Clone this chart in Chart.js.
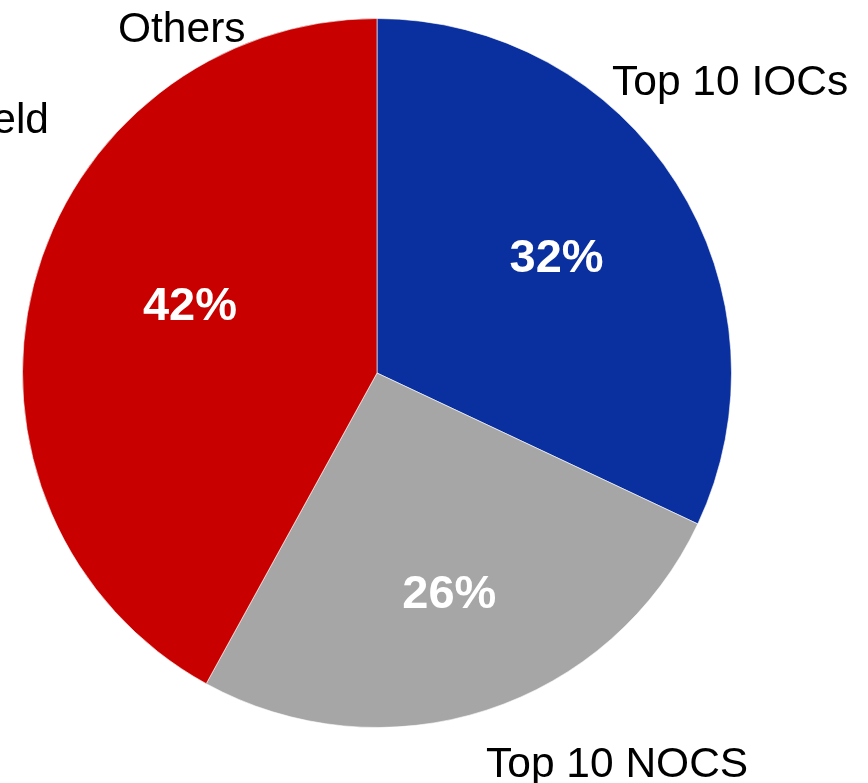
<!DOCTYPE html>
<html>
<head>
<meta charset="utf-8">
<title>Share by company group</title>
<script src="https://cdn.jsdelivr.net/npm/chart.js@4.4.1/dist/chart.umd.min.js"></script>
<style>
    html, body { margin: 0; padding: 0; background: #ffffff; }
    #wrap { position: relative; width: 868px; height: 783px; }
</style>
</head>
<body>
<div id="wrap"><canvas id="shareChart"></canvas></div>
<script>
// slices, clockwise from 12 o'clock
var groups = ['Top 10 IOCs', 'Top 10 NOCS', 'Others'];
var shares = [32, 26, 42];
var sliceColors = ['#0a2f9e', '#a6a6a6', '#c80000'];

// where each percentage sits: fraction of radius, and a small turn (radians) off the slice middle
var pctRadius = [0.6, 0.66, 0.56];
var pctTurn = [0, 0, 0.09];

// category names written around the pie
var outerText = ['Top 10 IOCs', 'Top 10 NOCS', 'Others', 'Field'];
var outerPos = [
    { x: 612, y: 95, align: 'left' },
    { x: 486, y: 777, align: 'left' },
    { x: 118, y: 42, align: 'left' },
    { x: 49, y: 133, align: 'right' }
];

var sliceLabels = {
    id: 'sliceLabels',
    afterDatasetsDraw: function (chart) {
        var ctx = chart.ctx;
        var arcs = chart.getDatasetMeta(0).data;
        ctx.save();
        ctx.fillStyle = '#ffffff';
        ctx.font = 'bold 47px "Liberation Sans", Arial, sans-serif';
        ctx.textAlign = 'center';
        ctx.textBaseline = 'middle';
        arcs.forEach(function (arc, i) {
            var p = arc.getProps(['x', 'y', 'startAngle', 'endAngle', 'outerRadius'], true);
            var mid = (p.startAngle + p.endAngle) / 2 + pctTurn[i];
            var r = p.outerRadius * pctRadius[i];
            ctx.fillText(shares[i] + '%', p.x + Math.cos(mid) * r, p.y + Math.sin(mid) * r);
        });

        ctx.fillStyle = '#000000';
        ctx.font = '42.5px "Liberation Sans", Arial, sans-serif';
        ctx.textBaseline = 'alphabetic';
        outerText.forEach(function (t, i) {
            ctx.textAlign = outerPos[i].align;
            ctx.fillText(t, outerPos[i].x, outerPos[i].y);
        });
        ctx.restore();
    }
};

new Chart('shareChart', {
    type: 'pie',
    data: {
        labels: groups,
        datasets: [{
            data: shares,
            backgroundColor: sliceColors,
            borderColor: 'rgba(255,255,255,0.6)',
            borderWidth: 1
        }]
    },
    options: {
        responsive: true,
        maintainAspectRatio: false,
        animation: false,
        layout: {
            padding: { left: 22, top: 18, right: 136, bottom: 55 }
        },
        plugins: {
            legend: { display: false },
            tooltip: { enabled: false }
        }
    },
    plugins: [sliceLabels]
});
</script>
</body>
</html>
